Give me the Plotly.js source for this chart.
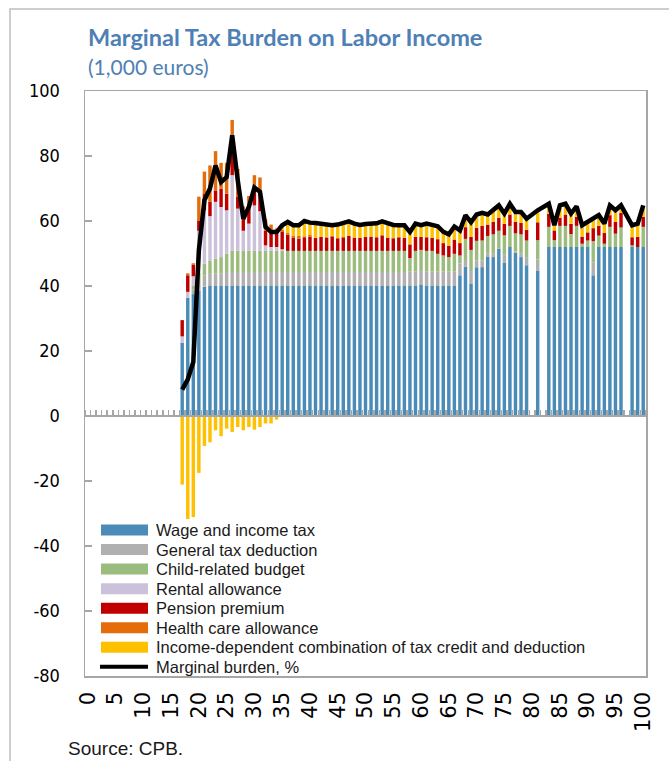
<!DOCTYPE html>
<html><head><meta charset="utf-8">
<script src="https://cdn.plot.ly/plotly-3.0.1.min.js"></script>
<style>html,body{margin:0;padding:0;background:#fff;} #chart{width:669px;height:761px;}</style>
</head><body><div id="chart"></div>
<script>
// ---------- DATA (income in 1,000 euros: 0..100) ----------
const incomeCategories = [
  0,1,2,3,4,5,6,7,8,9,
  10,11,12,13,14,15,16,17,18,19,
  20,21,22,23,24,25,26,27,28,29,
  30,31,32,33,34,35,36,37,38,39,
  40,41,42,43,44,45,46,47,48,49,
  50,51,52,53,54,55,56,57,58,59,
  60,61,62,63,64,65,66,67,68,69,
  70,71,72,73,74,75,76,77,78,79,
  80,81,82,83,84,85,86,87,88,89,
  90,91,92,93,94,95,96,97,98,99,
  100];

const wageIncomeTax = [
  0,0,0,0,0,0,0,0,0,0,
  0,0,0,0,0,0,0,22.5,36.3,37.5,
  38.5,39.8,40,40,40,40,40,40,40,40,
  40,40,40,40,40,40,40,40,40,40,
  40,40,40,40,40,40,40,40,40,40,
  40,40,40,40,40,40,40,40,40,40,
  40.5,40,40,40,40,40,40,43.3,45.9,40.8,
  45.8,45.8,48.9,48.9,51.5,47.1,52,50.2,48.9,46.4,
  0,44.6,0,52,52,52,52,52,52,52,
  52,43.3,52,52,52,52,52,0,52,52,
  52];

const generalTaxDeduction = [
  0,0,0,0,0,0,0,0,0,0,
  0,0,0,0,0,0,0,0,0,1.5,
  3.0,3.5,4.0,3.8,3.8,4.3,4.3,4.3,4.3,4.3,
  4.3,4.3,4.3,4.3,4.3,4.3,4.3,4.3,4.3,4.3,
  4.3,4.3,4.3,4.3,4.3,4.3,4.3,4.3,4.3,4.3,
  4.3,4.3,4.3,4.3,4.3,4.3,4.3,4.3,4.4,4.4,
  4.4,4.4,4.4,4.4,4.4,4.4,4.4,3.6,2.1,3.8,
  2.0,2.0,1.0,1.0,0,2.5,0,0.5,1.0,2.5,
  0,3.5,0,0,0,0,0,0,0,0,
  0,4.0,0,0,0,0,0,0,0,0,
  0];

const childBudget = [
  0,0,0,0,0,0,0,0,0,0,
  0,0,0,0,0,0,0,0,0,1.0,
  2.5,3.6,3.7,4.6,5.1,5.7,6.5,6.5,6.5,6.5,
  6.5,6.5,6.5,6.5,6.5,6.5,6.5,6.5,6.5,6.5,
  6.5,6.5,6.5,6.5,6.5,6.5,6.5,6.5,6.5,6.5,
  6.5,6.5,6.5,6.5,6.5,6.5,6.5,6.5,4.2,6.4,
  6.2,6.4,6.4,5.5,5.0,4.5,5.5,2.5,6.5,6.5,
  6.1,6.2,5.5,6.0,5.5,6.0,6.5,5.5,6.0,5.1,
  0,6.0,0,6.2,2.1,6.5,6.5,4.0,6.5,1.0,
  2.0,6.5,3.5,1.0,6.2,4.1,6.0,0,0.5,0,
  6.2];

const rentalAllowance = [
  0,0,0,0,0,0,0,0,0,0,
  0,0,0,0,0,0,0,2.0,1.9,3.0,
  13.0,16.4,13.8,17.5,15.4,13.3,23.3,13.0,6.2,8.4,
  14.0,12.2,1.7,1.2,1.2,0.5,0,0,0,0,
  0,0,0,0,0,0,0,0,0,0,
  0,0,0,0,0,0,0,0,0,0,
  0,0,0,0,0,0,0,0,0,0,
  0,0,0,0,0,0,0,0,0,0,
  0,0,0,0,0,0,0,0,0,0,
  0,0,0,0,0,0,0,0,0,0,
  0];

const pensionPremium = [
  0,0,0,0,0,0,0,0,0,0,
  0,0,0,0,0,0,0,5.0,5.1,3.5,
  3.0,5.0,4.4,3.5,5.6,5.1,8.0,3.6,6.5,5.8,
  6.2,5.4,4.5,5.4,4.1,5.5,5.0,4.0,3.8,4.2,
  4.4,4.0,4.3,4.1,4.5,3.9,4.2,4.6,4.1,4.0,
  4.3,4.4,4.2,4.8,4.1,3.9,4.2,4.0,4.2,4.3,
  4.0,4.2,4.0,4.5,3.8,3.5,4.4,3.8,3.6,4.0,
  4.0,4.5,3.5,3.8,4.0,3.5,3.5,3.5,3.5,3.3,
  0,5.5,0,4.0,3.0,2.5,3.5,3.1,2.8,2.2,
  2.5,4.0,3.0,3.3,3.6,3.6,4.5,0,2.5,3.1,
  3.1];

const healthCareAllowance = [
  0,0,0,0,0,0,0,0,0,0,
  0,0,0,0,0,0,0,0,0.6,0.5,
  7.5,6.9,11.2,12.1,8.0,9.5,9.0,8.6,1.0,2.7,
  3.1,5.0,3.5,1.5,1.6,0.5,0.5,0.6,0.8,0.3,
  0.5,0,0,0.3,0,0,0,0,0,0,
  0,0,0,0,0,0,0,0,0,0,
  0,0,0,0,0,0,0,0,0,0,
  0,0,0,0,0,0,0,0,0,0,
  0,0,0,0,0,0,0,0,0,0,
  0,0,0,0,0,0,0,0,0,0,
  0];

const taxCreditDeduction = [
  0,0,0,0,0,0,0,0,0,0,
  0,0,0,0,0,0,0,-21.1,-32.6,-31.1,
  -17.5,-9.2,-8.1,-4.4,-6.2,-3.9,-4.9,-3.4,-4.4,-3.4,
  -4.2,-3.4,-2.3,-2.3,-1.1,1.4,3.4,2.9,2.9,4.2,
  3.4,4.1,3.7,3.2,3.0,3.8,3.9,4.0,3.9,3.6,
  3.6,3.7,3.9,3.8,3.9,3.7,3.3,3.5,3.8,4.1,
  3.6,4.2,4.0,4.0,3.5,3.5,4.0,3.9,3.7,4.5,
  4.1,4.0,3.1,3.6,3.8,3.2,3.3,3.1,3.4,3.4,
  0,3.7,0,3.1,1.6,3.8,3.3,3.2,3.2,3.5,
  3.2,3.2,3.3,2.9,3.0,3.6,2.3,0,3.7,4.1,
  3.5];

const marginalBurden = [
  null,null,null,null,null,null,null,null,null,null,
  null,null,null,null,null,null,null,8.1,11.3,16.6,
  51.0,66.4,70.0,77.1,72.0,73.5,86.4,72.5,60.7,64.3,
  70.3,69.0,58.2,56.6,56.6,58.7,59.7,58.7,58.7,60.0,
  59.5,59.4,59.2,58.8,58.7,58.9,59.3,59.9,59.2,58.8,
  59.1,59.3,59.3,59.9,59.2,58.8,58.7,58.7,56.6,59.2,
  58.7,59.2,58.8,58.4,56.7,55.9,58.3,57.1,61.8,59.6,
  62.0,62.5,62.0,63.3,64.8,62.3,65.3,62.8,62.8,60.7,
  null,63.3,null,65.3,58.7,64.8,65.3,62.3,64.5,58.7,
  59.7,61.0,61.8,59.2,64.8,63.3,64.8,null,58.7,59.2,
  64.8];

const seriesNames = ['Wage and income tax','General tax deduction','Child-related budget','Rental allowance','Pension premium','Health care allowance','Income-dependent combination of tax credit and deduction'];
const seriesColors = ['#4B8BB7','#B0B0B0','#9CBC7E','#CCC1DA','#C00000','#E46C0A','#FFC000'];
const lineName = 'Marginal burden, %';
const xTickValues = [0,5,10,15,20,25,30,35,40,45,50,55,60,65,70,75,80,85,90,95,100];
const xTickLabels = ['0','5','10','15','20','25','30','35','40','45','50','55','60','65','70','75','80','85','90','95','100'];
const yTickValues = [-80,-60,-40,-20,0,20,40,60,80,100];
const yTickLabels = ['-80','-60','-40','-20','0','20','40','60','80','100'];

// ---------- CHART ----------
const seriesValues = [wageIncomeTax, generalTaxDeduction, childBudget, rentalAllowance, pensionPremium, healthCareAllowance, taxCreditDeduction];
const traces = seriesValues.map((vals, i) => ({
  type: 'bar', x: incomeCategories, y: vals, name: seriesNames[i],
  marker: {color: seriesColors[i], line: {width: 0}}, showlegend: false, hoverinfo: 'skip'
}));
traces.push({
  type: 'scatter', mode: 'lines', x: incomeCategories, y: marginalBurden, name: lineName,
  line: {color: '#000000', width: 4.5}, connectgaps: true, showlegend: false
});
// helper trace so the category axis drawn at y = 0 is rendered
traces.push({type: 'scatter', mode: 'markers', x: [incomeCategories[0]], y: [0], xaxis: 'x2', yaxis: 'y',
  marker: {opacity: 0, size: 1}, showlegend: false, hoverinfo: 'skip'});

const L = 85, T = 91, W = 561, H = 585;
const fx = v => (v - L) / W;
const fy = v => (T + H - v) / H;
const axisGray = '#A6A6A6';
const legendFont = 'Liberation Sans, Arial, sans-serif';
const narrowFont = 'Liberation Sans Narrow, DejaVu Sans Condensed, Arial Narrow, sans-serif';

const shapes = [];
const annotations = [];

// outer frame
shapes.push({type:'rect', xref:'paper', yref:'paper', x0: fx(10), x1: fx(720), y0: fy(800), y1: fy(9),
  line:{color:'#BFBFBF', width:1.5}, fillcolor:'rgba(0,0,0,0)', layer:'below'});

// legend (white area, no border)
shapes.push({type:'rect', xref:'paper', yref:'paper', x0: fx(93), x1: fx(600), y0: fy(674), y1: fy(519),
  line:{width:0}, fillcolor:'#FFFFFF', layer:'above'});
const legTop = 530, legStep = 19.55;
seriesNames.forEach((nm, i) => {
  const cy = legTop + i * legStep;
  shapes.push({type:'rect', xref:'paper', yref:'paper', x0: fx(101), x1: fx(148), y0: fy(cy + 5.5), y1: fy(cy - 5.5),
    line:{width:0}, fillcolor: seriesColors[i], layer:'above'});
  annotations.push({xref:'paper', yref:'paper', x: fx(154), y: fy(cy), xanchor:'left', yanchor:'middle',
    text: nm, showarrow:false, font:{family:legendFont, size:16.5, color:'#1A1A1A'}});
});
{
  const cy = legTop + 7 * legStep;
  shapes.push({type:'line', xref:'paper', yref:'paper', x0: fx(100), x1: fx(148), y0: fy(cy), y1: fy(cy),
    line:{color:'#000', width:4}, layer:'above'});
  annotations.push({xref:'paper', yref:'paper', x: fx(154), y: fy(cy), xanchor:'left', yanchor:'middle',
    text: lineName, showarrow:false, font:{family:legendFont, size:16.5, color:'#1A1A1A'}});
}

// titles and source
annotations.push({xref:'paper', yref:'paper', x: fx(86), y: fy(37), xanchor:'left', yanchor:'middle',
  text:'<b>Marginal Tax Burden on Labor Income</b>', showarrow:false,
  font:{family:'Lato, Open Sans, sans-serif', size:23.5, color:'#4E80B5'}});
annotations.push({xref:'paper', yref:'paper', x: fx(86), y: fy(67), xanchor:'left', yanchor:'middle',
  text:'(1,000 euros)', showarrow:false,
  font:{family:'Lato, Open Sans, sans-serif', size:21, color:'#4E80B5'}});
annotations.push({xref:'paper', yref:'paper', x: fx(66), y: fy(748), xanchor:'left', yanchor:'middle',
  text:'Source: CPB.', showarrow:false,
  font:{family:legendFont, size:19, color:'#1A1A1A'}});

const layout = {
  width: 669, height: 761,
  margin: {l: L, r: 669 - L - W, t: T, b: 761 - T - H, pad: 0},
  paper_bgcolor: '#FFFFFF', plot_bgcolor: '#FFFFFF',
  barmode: 'relative', bargap: 0.38,
  showlegend: false,
  xaxis: {
    range: [-0.5, 100.5], tickvals: xTickValues, ticktext: xTickLabels, tickangle: -90,
    ticks: '', showgrid: false, zeroline: false, showline: true, mirror: true,
    linecolor: axisGray, linewidth: 1.5, ticklabelstandoff: 6,
    tickfont: {family: 'DejaVu Sans, sans-serif', size: 21, color: '#000'}
  },
  xaxis2: {
    overlaying: 'x', anchor: 'free', position: 80/180, side: 'top',
    range: [-0.5, 100.5], tick0: 0.5, dtick: 1, ticks: 'outside', ticklen: 5, tickwidth: 1.5,
    tickcolor: axisGray, showticklabels: false, showgrid: false, zeroline: false,
    showline: true, linecolor: axisGray, linewidth: 2
  },
  yaxis: {
    range: [-80, 100], tickvals: yTickValues, ticktext: yTickLabels,
    ticks: 'inside', ticklen: 7, tickwidth: 1.5, tickcolor: axisGray,
    showgrid: false, zeroline: false, showline: true, mirror: true, linecolor: axisGray, linewidth: 1.5,
    ticklabelstandoff: 20,
    tickfont: {family: narrowFont, size: 18, color: '#000'}
  },
  shapes: shapes,
  annotations: annotations
};

Plotly.newPlot('chart', traces, layout, {displayModeBar: false, staticPlot: true});
</script></body></html>
